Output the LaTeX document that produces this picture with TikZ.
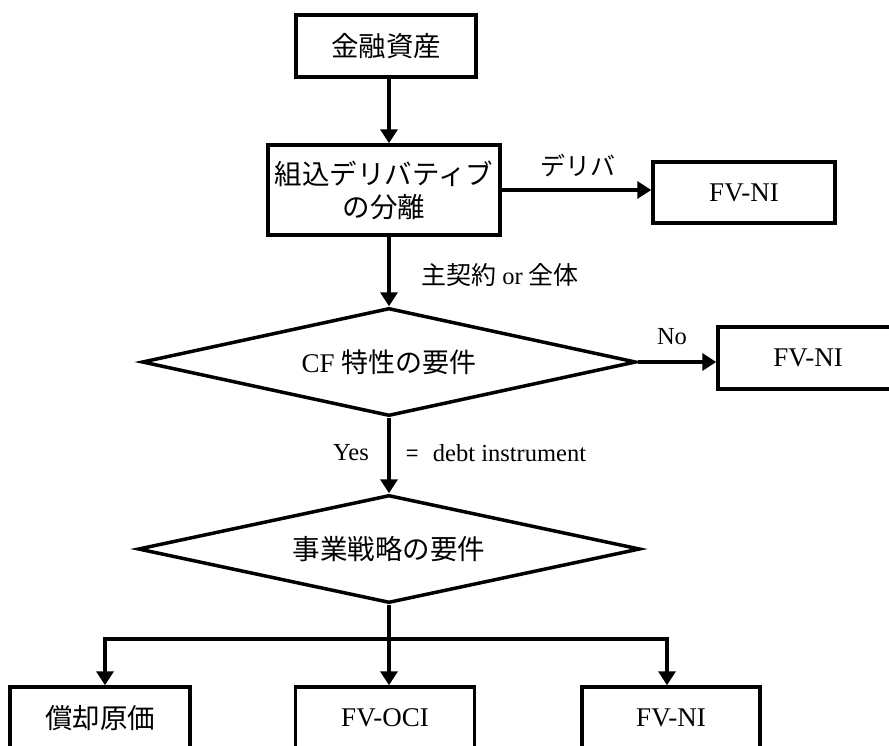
\documentclass[tikz,border=0pt]{standalone}
\usepackage{fontspec}
\setmainfont{Liberation Serif}
\newfontfamily\jp{Noto Sans CJK JP}
\usetikzlibrary{shapes.geometric,arrows.meta}
\begin{document}
\begin{tikzpicture}[x=1pt,y=-1pt,line width=3.5pt,
  box/.style={draw, rectangle, minimum width=180pt, minimum height=62pt, inner sep=0pt, align=center, font=\fontsize{27}{32}\selectfont},
  jbox/.style={box, font=\jp\fontsize{27.5}{33}\selectfont},
  dia/.style={draw, diamond, minimum width=494pt, minimum height=108pt, inner sep=0pt, shape aspect=4.5, font=\fontsize{27}{32}\selectfont},
  arr/.style={-{Triangle[length=14pt,width=17pt]}},
  lbl/.style={inner sep=0pt, font=\fontsize{24.5}{28}\selectfont},
  jlbl/.style={inner sep=0pt, font=\jp\fontsize{25}{28}\selectfont}]
\useasboundingbox (0,0) rectangle (889,745);
% nodes
\node[jbox] (fa) at (386,46) {金融資産};
\node[jbox, minimum width=232pt, minimum height=90pt] (sep) at (384,190) {組込デリバティブ\\の分離};
\node[box, minimum width=182pt, minimum height=61pt] (fv1) at (744,192.5) {FV-NI};
\node[dia] (d1) at (389,362) {CF {\jp\fontsize{27}{32}\selectfont 特性の要件}};
\node[box, minimum width=180pt, minimum height=62pt] (fv2) at (808,358) {FV-NI};
\node[dia, minimum width=502pt] (d2) at (389,549) {{\jp\fontsize{27.5}{32}\selectfont 事業戦略の要件}};
\node[jbox] (b1) at (100,718) {償却原価};
\node[box, minimum width=179pt] (b2) at (385,718) {FV-OCI};
\node[box, minimum width=178pt] (b3) at (671,718) {FV-NI};
% labels
\node[jlbl] (l1) at (578,166) {デリバ};
\node[lbl] (l2) at (500,275) {{\jp\fontsize{25}{28}\selectfont 主契約} or {\jp\fontsize{25}{28}\selectfont 全体}};
\node[lbl] (l3) at (672,337) {No};
\node[lbl] (l4) at (351,453) {Yes};
\node[lbl, anchor=west] (l5) at (405,453) {{\jp\fontsize{22}{28}\selectfont =}\hspace{14pt}debt instrument};
% connectors
\coordinate (bar) at (389,639);
\draw[arr] (fa.south -| d1.north) -- (sep.north -| d1.north);
\draw[arr] (sep.east) -- (sep.east -| fv1.west);
\draw[arr] (sep.south -| d1.north) -- (d1.north);
\draw[arr] (d1.east) -- (d1.east -| fv2.west);
\draw[arr] (d1.south) -- (d2.north);
\draw[arr] (d2.south) -- (d2.south |- b2.north);
\draw[arr] (bar) -| ([xshift=5pt]b1.north);
\draw[arr] (bar) -| ([xshift=-4pt]b3.north);
\end{tikzpicture}
\end{document}
